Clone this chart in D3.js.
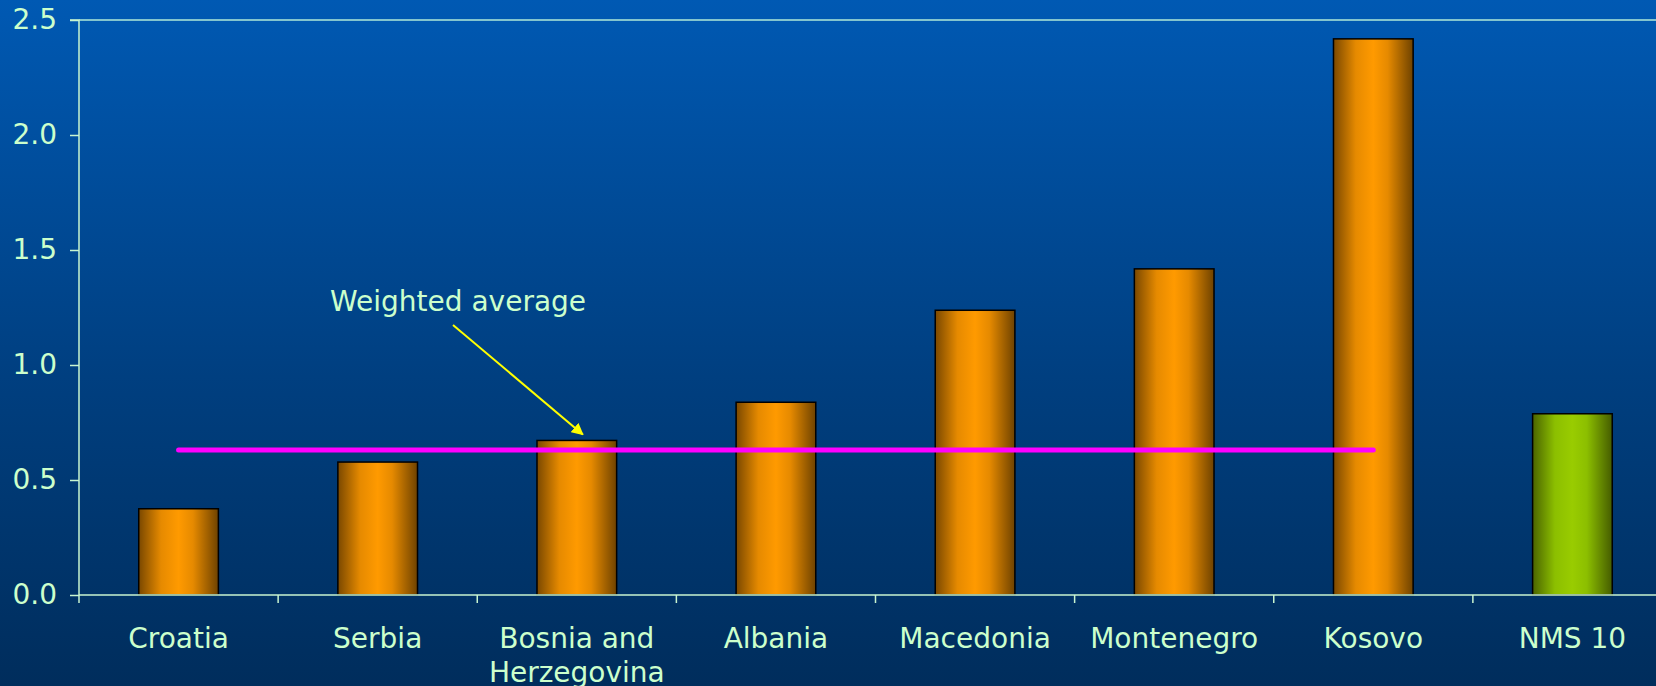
<!DOCTYPE html>
<html>
<head>
<meta charset="utf-8">
<script src="https://cdn.jsdelivr.net/npm/d3@7"></script>
<style>
  html, body { margin: 0; padding: 0; background: #003c78; overflow: hidden; }
  svg { display: block; }
  text { font-family: "DejaVu Sans", Verdana, sans-serif; }
</style>
</head>
<body>
<svg id="chart" width="1656" height="686"></svg>
<script>
// Country values
const categories = ["Croatia", "Serbia", "Bosnia and Herzegovina", "Albania", "Macedonia", "Montenegro", "Kosovo", "NMS 10"];
const labelLines = [["Croatia"], ["Serbia"], ["Bosnia and", "Herzegovina"], ["Albania"], ["Macedonia"], ["Montenegro"], ["Kosovo"], ["NMS 10"]];
const values = [0.375, 0.578, 0.672, 0.838, 1.238, 1.418, 2.418, 0.788];
const highlighted = ["NMS 10"];
const yTicks = [0.0, 0.5, 1.0, 1.5, 2.0, 2.5];
const weightedAverage = 0.63;
const averageSpan = ["Croatia", "Kosovo"];
const annotationText = "Weighted average";
const annotationTarget = "Bosnia and Herzegovina";

const W = 1656, H = 686;
const margin = { left: 79, top: 20 };
const plotBottom = 595;
const plotRight = 1672;

const svg = d3.select("#chart");
const defs = svg.append("defs");

// background gradient
const bg = defs.append("linearGradient").attr("id", "bg").attr("x1", 0).attr("y1", 0).attr("x2", 0).attr("y2", 1);
bg.append("stop").attr("offset", "0%").attr("stop-color", "#0059b3");
bg.append("stop").attr("offset", "55%").attr("stop-color", "#003f80");
bg.append("stop").attr("offset", "100%").attr("stop-color", "#002d5c");
svg.append("rect").attr("width", W).attr("height", H).attr("fill", "url(#bg)");

// bar gradients (shaded cylinder look)
function barGradient(id, edgeL, mid, peak, edgeR) {
  const g = defs.append("linearGradient").attr("id", id).attr("x1", 0).attr("y1", 0).attr("x2", 1).attr("y2", 0);
  g.append("stop").attr("offset", "0%").attr("stop-color", edgeL);
  g.append("stop").attr("offset", "28%").attr("stop-color", mid);
  g.append("stop").attr("offset", "50%").attr("stop-color", peak);
  g.append("stop").attr("offset", "68%").attr("stop-color", mid);
  g.append("stop").attr("offset", "100%").attr("stop-color", edgeR);
}
barGradient("orange", "#7a4800", "#e68a00", "#ff9a00", "#6e4200");
barGradient("green", "#4a6400", "#8cbf00", "#99cc00", "#455c00");

const x = d3.scaleBand().domain(categories).range([margin.left, plotRight]).padding(0);
const y = d3.scaleLinear().domain([0, 2.5]).range([plotBottom, margin.top]);

const axisColor = "#c8f5d0";
const textColor = "#ccffcc";

// top frame line
svg.append("line")
  .attr("x1", margin.left).attr("x2", W)
  .attr("y1", y(2.5)).attr("y2", y(2.5))
  .attr("stroke", "#b0ead8").attr("stroke-width", 1.5);

// bars
const barFrac = 0.4;
svg.append("g").selectAll("rect").data(categories).join("rect")
  .attr("x", d => x(d) + x.bandwidth() * (1 - barFrac) / 2)
  .attr("width", x.bandwidth() * barFrac)
  .attr("y", (d, i) => y(values[i]))
  .attr("height", (d, i) => y(0) - y(values[i]))
  .attr("fill", d => highlighted.includes(d) ? "url(#green)" : "url(#orange)")
  .attr("stroke", "#000").attr("stroke-width", 1.5);

// y axis
const yAxis = d3.axisLeft(y).tickValues(yTicks).tickFormat(d3.format(".1f")).tickSize(9).tickPadding(13);
const gy = svg.append("g").attr("transform", `translate(${margin.left},0)`).call(yAxis);
gy.select(".domain").attr("stroke", axisColor).attr("stroke-width", 1.5).attr("d", `M-9,${y(2.5)}H0V${y(0)}`);
gy.selectAll(".tick line").attr("stroke", axisColor).attr("stroke-width", 1.5);
gy.selectAll(".tick text").attr("fill", textColor).attr("font-size", 28).attr("font-family", "DejaVu Sans");

// x axis: ticks at category boundaries
const boundaries = categories.map(c => x(c)).concat([x.range()[1]]);
const xb = d3.scaleLinear().domain([0, 1]).range([0, 1]);
const gx = svg.append("g").attr("transform", `translate(0,${plotBottom})`);
gx.append("line").attr("x1", margin.left).attr("x2", W).attr("y1", 0).attr("y2", 0)
  .attr("stroke", axisColor).attr("stroke-width", 1.5);
gx.selectAll("line.tk").data(boundaries).join("line").attr("class", "tk")
  .attr("x1", d => d).attr("x2", d => d).attr("y1", 0).attr("y2", 8)
  .attr("stroke", axisColor).attr("stroke-width", 1.5);

// category labels
const lbl = gx.selectAll("text.cat").data(categories).join("text").attr("class", "cat")
  .attr("x", d => x(d) + x.bandwidth() / 2)
  .attr("y", 53)
  .attr("text-anchor", "middle")
  .attr("fill", textColor).attr("font-size", 28);
lbl.each(function(d, i) {
  const t = d3.select(this);
  labelLines[i].forEach((line, j) => {
    t.append("tspan").attr("x", x(d) + x.bandwidth() / 2).attr("dy", j === 0 ? 0 : 34).text(line);
  });
});

// weighted average line
svg.append("line")
  .attr("x1", x(averageSpan[0]) + x.bandwidth() / 2)
  .attr("x2", x(averageSpan[1]) + x.bandwidth() / 2)
  .attr("y1", y(weightedAverage)).attr("y2", y(weightedAverage))
  .attr("stroke", "#ff00ff").attr("stroke-width", 5).attr("stroke-linecap", "round");

// annotation
svg.append("text")
  .attr("x", 330).attr("y", 311)
  .attr("fill", textColor).attr("font-size", 28)
  .text(annotationText);

defs.append("marker").attr("id", "arrow")
  .attr("viewBox", "0 0 10 10").attr("refX", 9).attr("refY", 5)
  .attr("markerWidth", 6).attr("markerHeight", 6).attr("markerUnits", "strokeWidth")
  .attr("orient", "auto")
  .append("path").attr("d", "M0,0L10,5L0,10z").attr("fill", "#ffff00");

const tipX = x(annotationTarget) + x.bandwidth() / 2 + 6;
const tipY = y(values[categories.indexOf(annotationTarget)]) - 6;
svg.append("line")
  .attr("x1", 453).attr("y1", 325)
  .attr("x2", tipX).attr("y2", tipY)
  .attr("stroke", "#ffff00").attr("stroke-width", 2)
  .attr("marker-end", "url(#arrow)");
</script>
</body>
</html>
